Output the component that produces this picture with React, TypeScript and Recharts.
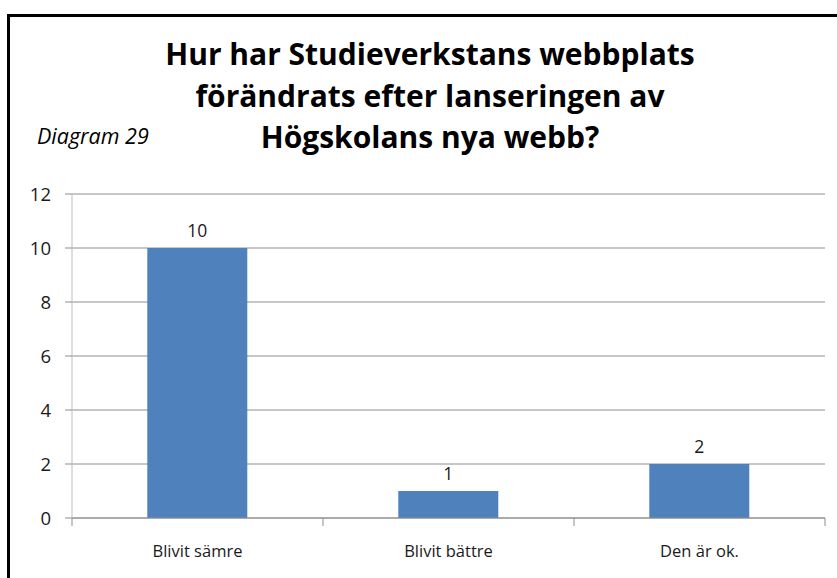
import React from 'react';
import { BarChart, Bar, XAxis, YAxis, CartesianGrid, LabelList } from 'recharts';

const categories = ['Blivit sämre', 'Blivit bättre', 'Den är ok.'];
const counts = [10, 1, 2];
const yTicks = [0, 2, 4, 6, 8, 10, 12];
const titleLines = ['Hur har Studieverkstans webbplats', 'förändrats efter lanseringen av', 'Högskolans nya webb?'];
const diagramLabel = 'Diagram 29';

const data = categories.map((c, i) => ({ name: c, value: counts[i] }));

const FONT = '"Open Sans", Lato, sans-serif';
const W = 837;
const H = 578;
const PLOT_LEFT = 72;
const PLOT_RIGHT = 825;

const CatTick = (props: any) => {
  const { x, y, payload, index } = props;
  const band = (PLOT_RIGHT - PLOT_LEFT) / categories.length;
  const half = band / 2;
  return (
    <g>
      <line x1={x - half} x2={x - half} y1={y} y2={y + 8} stroke="#8e8e8e" strokeWidth={1} />
      {index === categories.length - 1 && (
        <line x1={x + half} x2={x + half} y1={y} y2={y + 8} stroke="#8e8e8e" strokeWidth={1} />
      )}
      <text x={x} y={y + 39} textAnchor="middle" fontFamily={FONT} fontSize={16.5} fill="#1a1a1a">
        {payload.value}
      </text>
    </g>
  );
};

export default function App() {
  return (
    <div style={{ position: 'absolute', left: 0, top: 0, width: W, height: H, background: '#fff', overflow: 'hidden' }}>
      <BarChart
        width={W}
        height={H}
        data={data}
        margin={{ top: 194, right: W - PLOT_RIGHT, bottom: 20, left: 10 }}
        barCategoryGap="30%"
      >
        <CartesianGrid horizontal vertical={false} stroke="#8e8e8e" strokeWidth={1} />
        <XAxis
          dataKey="name"
          height={40}
          tickLine={false}
          tickSize={0}
          tickMargin={0}
          axisLine={{ stroke: '#8e8e8e' }}
          tick={<CatTick />}
          interval={0}
        />
        <YAxis
          width={62}
          domain={[0, 12]}
          ticks={yTicks}
          interval={0}
          tickSize={7}
          tickMargin={14}
          axisLine={{ stroke: '#bdbdbd' }}
          tickLine={{ stroke: '#8e8e8e' }}
          tick={{ fontFamily: FONT, fontSize: 18.5, fill: '#1a1a1a' }}
        />
        <Bar dataKey="value" fill="#4F81BD" isAnimationActive={false}>
          <LabelList dataKey="value" position="top" offset={11} style={{ fontFamily: FONT, fontSize: 17.5, fill: '#1a1a1a' }} />
        </Bar>
      </BarChart>
      <svg width={W} height={H} style={{ position: 'absolute', left: 0, top: 0, pointerEvents: 'none' }}>
        <line x1={8.5} x2={8.5} y1={14} y2={H} stroke="#000" strokeWidth={3} />
        <line x1={7} x2={W} y1={15.5} y2={15.5} stroke="#000" strokeWidth={3} />
        {titleLines.map((t, i) => (
          <text key={i} x={430} y={65 + i * 41.5} textAnchor="middle" fontFamily={FONT} fontWeight={700} fontSize={30} fill="#000">
            {t}
          </text>
        ))}
        <text x={37} y={144} fontFamily={FONT} fontStyle="italic" fontSize={21.5} fill="#000">
          {diagramLabel}
        </text>
      </svg>
    </div>
  );
}
